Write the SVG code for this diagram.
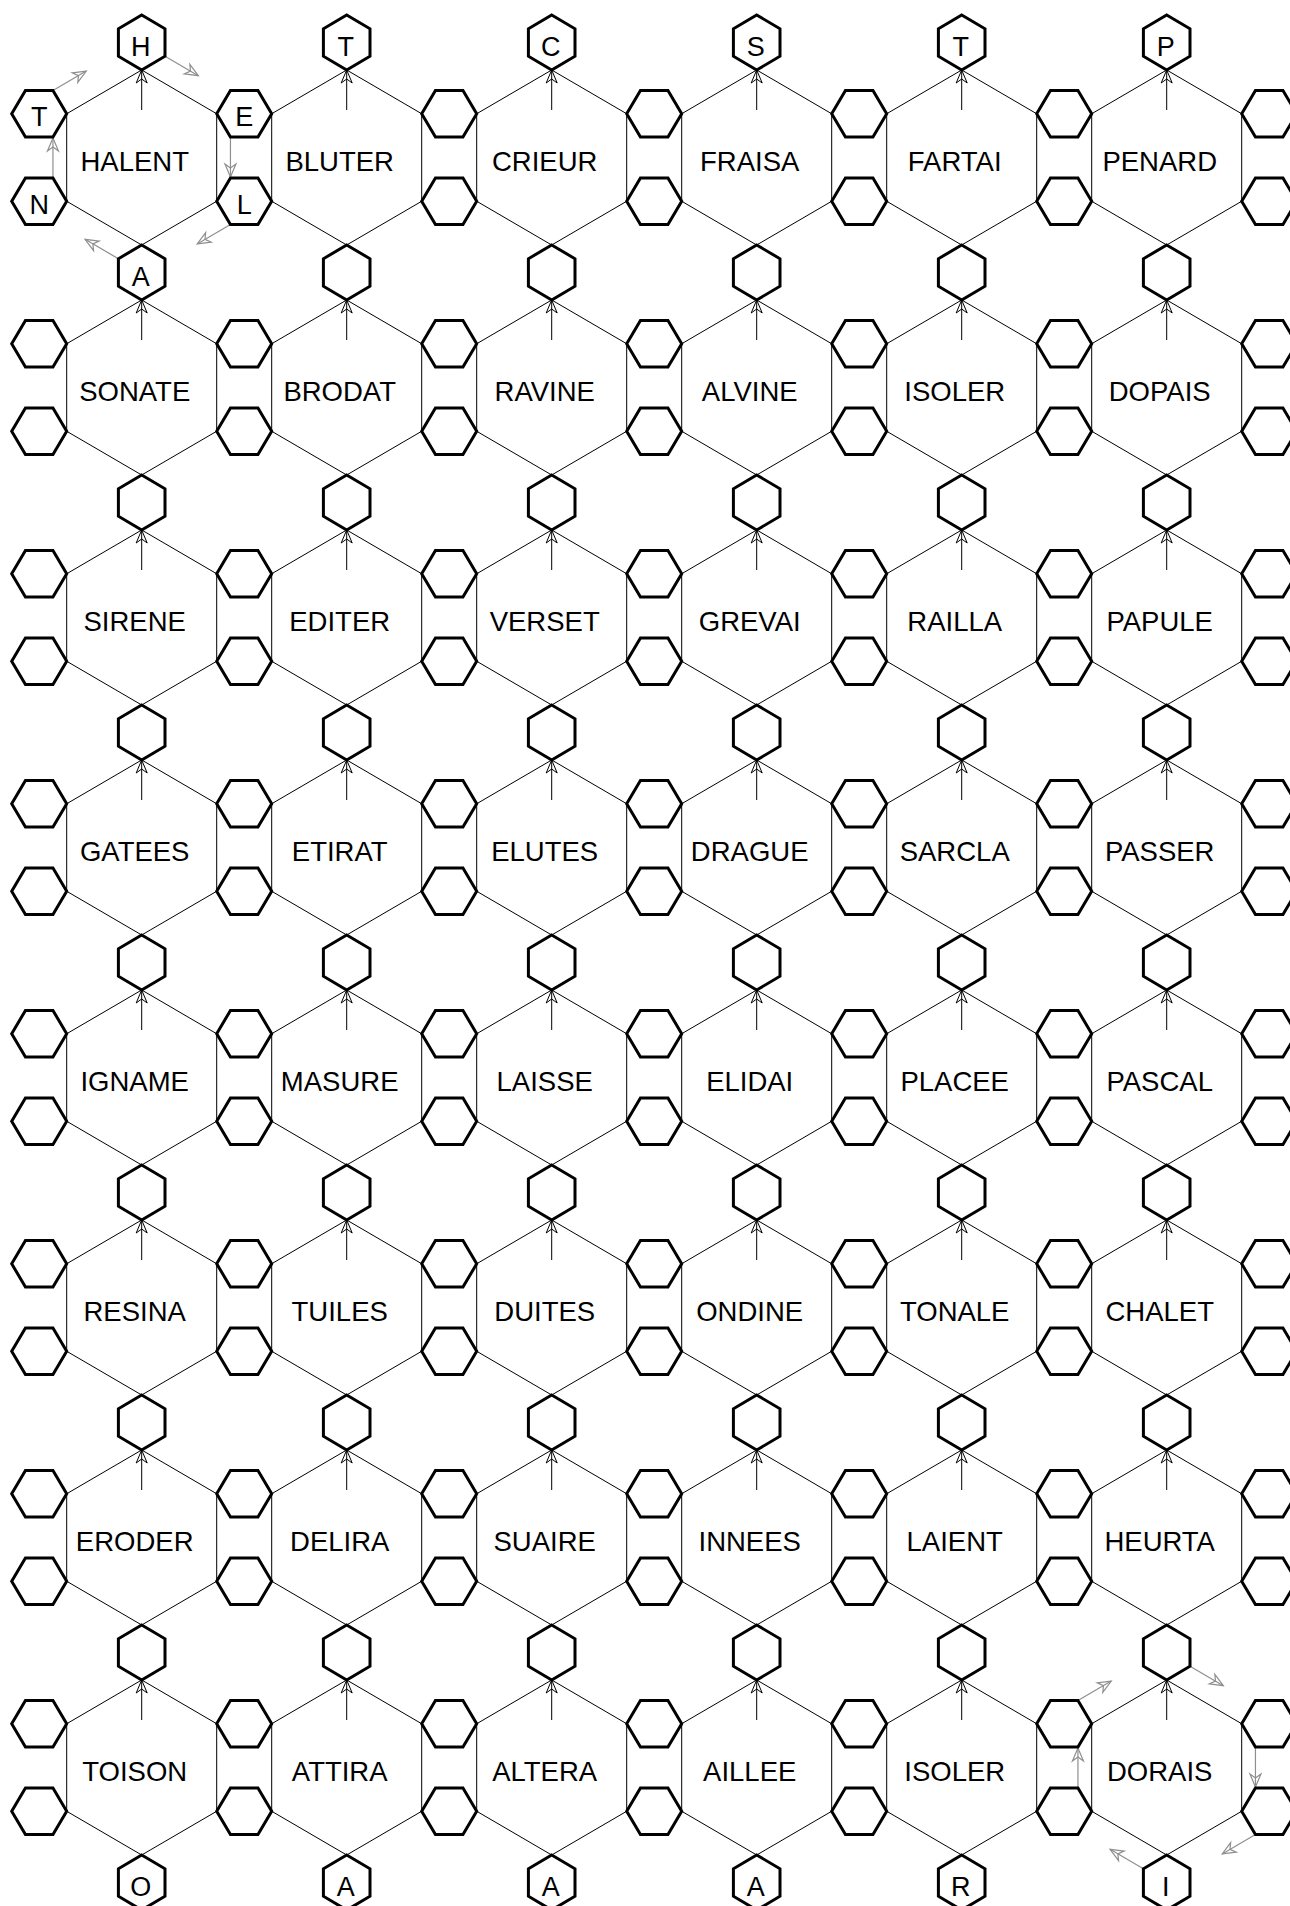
<svg xmlns="http://www.w3.org/2000/svg" xmlns:xlink="http://www.w3.org/1999/xlink" width="1290" height="1906" viewBox="0 0 1290 1906">
<style>
.big{fill:none;stroke:#000;stroke-width:1}
.sm{fill:#fff;stroke:#000;stroke-width:3;stroke-linejoin:miter}
.w{font-family:"Liberation Sans",Arial,sans-serif;font-size:27.5px;fill:#000;text-anchor:middle}
.l{font-family:"Liberation Sans",Arial,sans-serif;font-size:27px;fill:#000;text-anchor:middle}
.ia{fill:none;stroke:#000;stroke-width:1;marker-end:url(#ah)}
.ga{fill:none;stroke:#8f8f8f;stroke-width:1.2;marker-end:url(#gh)}
</style>
<defs>
<polygon id="bh" points="0,-87.5 75,-43.75 75,43.75 0,87.5 -75,43.75 -75,-43.75"/>
<polygon id="ph" points="0,-27.5 23.3,-13.75 23.3,13.75 0,27.5 -23.3,13.75 -23.3,-13.75"/>
<polygon id="fh" points="-27.5,0 -13.75,-23.3 13.75,-23.3 27.5,0 13.75,23.3 -13.75,23.3"/>
<marker id="ah" markerUnits="userSpaceOnUse" markerWidth="20" markerHeight="20" refX="0" refY="0" orient="auto" overflow="visible">
<path d="M0,0 L-13,-5.5 L-9,0 L-13,5.5 Z" fill="none" stroke="#000" stroke-width="1"/>
</marker>
<marker id="gh" markerUnits="userSpaceOnUse" markerWidth="20" markerHeight="20" refX="0" refY="0" orient="auto" overflow="visible">
<path d="M0,0 L-13,-5.5 L-9,0 L-13,5.5 Z" fill="none" stroke="#8f8f8f" stroke-width="1.2"/>
</marker>
</defs>
<rect width="1290" height="1906" fill="#fff"/>
<g id="words">
<g id="w-0-0" transform="translate(141.7,157.5)"><use href="#bh" class="big"/><text class="w" x="-7" y="13.5">HALENT</text></g>
<g id="w-0-1" transform="translate(346.7,157.5)"><use href="#bh" class="big"/><text class="w" x="-7" y="13.5">BLUTER</text></g>
<g id="w-0-2" transform="translate(551.7,157.5)"><use href="#bh" class="big"/><text class="w" x="-7" y="13.5">CRIEUR</text></g>
<g id="w-0-3" transform="translate(756.7,157.5)"><use href="#bh" class="big"/><text class="w" x="-7" y="13.5">FRAISA</text></g>
<g id="w-0-4" transform="translate(961.7,157.5)"><use href="#bh" class="big"/><text class="w" x="-7" y="13.5">FARTAI</text></g>
<g id="w-0-5" transform="translate(1166.7,157.5)"><use href="#bh" class="big"/><text class="w" x="-7" y="13.5">PENARD</text></g>
<g id="w-1-0" transform="translate(141.7,387.5)"><use href="#bh" class="big"/><text class="w" x="-7" y="13.5">SONATE</text></g>
<g id="w-1-1" transform="translate(346.7,387.5)"><use href="#bh" class="big"/><text class="w" x="-7" y="13.5">BRODAT</text></g>
<g id="w-1-2" transform="translate(551.7,387.5)"><use href="#bh" class="big"/><text class="w" x="-7" y="13.5">RAVINE</text></g>
<g id="w-1-3" transform="translate(756.7,387.5)"><use href="#bh" class="big"/><text class="w" x="-7" y="13.5">ALVINE</text></g>
<g id="w-1-4" transform="translate(961.7,387.5)"><use href="#bh" class="big"/><text class="w" x="-7" y="13.5">ISOLER</text></g>
<g id="w-1-5" transform="translate(1166.7,387.5)"><use href="#bh" class="big"/><text class="w" x="-7" y="13.5">DOPAIS</text></g>
<g id="w-2-0" transform="translate(141.7,617.5)"><use href="#bh" class="big"/><text class="w" x="-7" y="13.5">SIRENE</text></g>
<g id="w-2-1" transform="translate(346.7,617.5)"><use href="#bh" class="big"/><text class="w" x="-7" y="13.5">EDITER</text></g>
<g id="w-2-2" transform="translate(551.7,617.5)"><use href="#bh" class="big"/><text class="w" x="-7" y="13.5">VERSET</text></g>
<g id="w-2-3" transform="translate(756.7,617.5)"><use href="#bh" class="big"/><text class="w" x="-7" y="13.5">GREVAI</text></g>
<g id="w-2-4" transform="translate(961.7,617.5)"><use href="#bh" class="big"/><text class="w" x="-7" y="13.5">RAILLA</text></g>
<g id="w-2-5" transform="translate(1166.7,617.5)"><use href="#bh" class="big"/><text class="w" x="-7" y="13.5">PAPULE</text></g>
<g id="w-3-0" transform="translate(141.7,847.5)"><use href="#bh" class="big"/><text class="w" x="-7" y="13.5">GATEES</text></g>
<g id="w-3-1" transform="translate(346.7,847.5)"><use href="#bh" class="big"/><text class="w" x="-7" y="13.5">ETIRAT</text></g>
<g id="w-3-2" transform="translate(551.7,847.5)"><use href="#bh" class="big"/><text class="w" x="-7" y="13.5">ELUTES</text></g>
<g id="w-3-3" transform="translate(756.7,847.5)"><use href="#bh" class="big"/><text class="w" x="-7" y="13.5">DRAGUE</text></g>
<g id="w-3-4" transform="translate(961.7,847.5)"><use href="#bh" class="big"/><text class="w" x="-7" y="13.5">SARCLA</text></g>
<g id="w-3-5" transform="translate(1166.7,847.5)"><use href="#bh" class="big"/><text class="w" x="-7" y="13.5">PASSER</text></g>
<g id="w-4-0" transform="translate(141.7,1077.5)"><use href="#bh" class="big"/><text class="w" x="-7" y="13.5">IGNAME</text></g>
<g id="w-4-1" transform="translate(346.7,1077.5)"><use href="#bh" class="big"/><text class="w" x="-7" y="13.5">MASURE</text></g>
<g id="w-4-2" transform="translate(551.7,1077.5)"><use href="#bh" class="big"/><text class="w" x="-7" y="13.5">LAISSE</text></g>
<g id="w-4-3" transform="translate(756.7,1077.5)"><use href="#bh" class="big"/><text class="w" x="-7" y="13.5">ELIDAI</text></g>
<g id="w-4-4" transform="translate(961.7,1077.5)"><use href="#bh" class="big"/><text class="w" x="-7" y="13.5">PLACEE</text></g>
<g id="w-4-5" transform="translate(1166.7,1077.5)"><use href="#bh" class="big"/><text class="w" x="-7" y="13.5">PASCAL</text></g>
<g id="w-5-0" transform="translate(141.7,1307.5)"><use href="#bh" class="big"/><text class="w" x="-7" y="13.5">RESINA</text></g>
<g id="w-5-1" transform="translate(346.7,1307.5)"><use href="#bh" class="big"/><text class="w" x="-7" y="13.5">TUILES</text></g>
<g id="w-5-2" transform="translate(551.7,1307.5)"><use href="#bh" class="big"/><text class="w" x="-7" y="13.5">DUITES</text></g>
<g id="w-5-3" transform="translate(756.7,1307.5)"><use href="#bh" class="big"/><text class="w" x="-7" y="13.5">ONDINE</text></g>
<g id="w-5-4" transform="translate(961.7,1307.5)"><use href="#bh" class="big"/><text class="w" x="-7" y="13.5">TONALE</text></g>
<g id="w-5-5" transform="translate(1166.7,1307.5)"><use href="#bh" class="big"/><text class="w" x="-7" y="13.5">CHALET</text></g>
<g id="w-6-0" transform="translate(141.7,1537.5)"><use href="#bh" class="big"/><text class="w" x="-7" y="13.5">ERODER</text></g>
<g id="w-6-1" transform="translate(346.7,1537.5)"><use href="#bh" class="big"/><text class="w" x="-7" y="13.5">DELIRA</text></g>
<g id="w-6-2" transform="translate(551.7,1537.5)"><use href="#bh" class="big"/><text class="w" x="-7" y="13.5">SUAIRE</text></g>
<g id="w-6-3" transform="translate(756.7,1537.5)"><use href="#bh" class="big"/><text class="w" x="-7" y="13.5">INNEES</text></g>
<g id="w-6-4" transform="translate(961.7,1537.5)"><use href="#bh" class="big"/><text class="w" x="-7" y="13.5">LAIENT</text></g>
<g id="w-6-5" transform="translate(1166.7,1537.5)"><use href="#bh" class="big"/><text class="w" x="-7" y="13.5">HEURTA</text></g>
<g id="w-7-0" transform="translate(141.7,1767.5)"><use href="#bh" class="big"/><text class="w" x="-7" y="13.5">TOISON</text></g>
<g id="w-7-1" transform="translate(346.7,1767.5)"><use href="#bh" class="big"/><text class="w" x="-7" y="13.5">ATTIRA</text></g>
<g id="w-7-2" transform="translate(551.7,1767.5)"><use href="#bh" class="big"/><text class="w" x="-7" y="13.5">ALTERA</text></g>
<g id="w-7-3" transform="translate(756.7,1767.5)"><use href="#bh" class="big"/><text class="w" x="-7" y="13.5">AILLEE</text></g>
<g id="w-7-4" transform="translate(961.7,1767.5)"><use href="#bh" class="big"/><text class="w" x="-7" y="13.5">ISOLER</text></g>
<g id="w-7-5" transform="translate(1166.7,1767.5)"><use href="#bh" class="big"/><text class="w" x="-7" y="13.5">DORAIS</text></g>
</g>
<g id="connectors">
<path class="ia" d="M141.7,110V70"/><path class="ia" d="M346.7,110V70"/><path class="ia" d="M551.7,110V70"/><path class="ia" d="M756.7,110V70"/><path class="ia" d="M961.7,110V70"/><path class="ia" d="M1166.7,110V70"/>
<path class="ia" d="M141.7,340V300"/><path class="ia" d="M346.7,340V300"/><path class="ia" d="M551.7,340V300"/><path class="ia" d="M756.7,340V300"/><path class="ia" d="M961.7,340V300"/><path class="ia" d="M1166.7,340V300"/>
<path class="ia" d="M141.7,570V530"/><path class="ia" d="M346.7,570V530"/><path class="ia" d="M551.7,570V530"/><path class="ia" d="M756.7,570V530"/><path class="ia" d="M961.7,570V530"/><path class="ia" d="M1166.7,570V530"/>
<path class="ia" d="M141.7,800V760"/><path class="ia" d="M346.7,800V760"/><path class="ia" d="M551.7,800V760"/><path class="ia" d="M756.7,800V760"/><path class="ia" d="M961.7,800V760"/><path class="ia" d="M1166.7,800V760"/>
<path class="ia" d="M141.7,1030V990"/><path class="ia" d="M346.7,1030V990"/><path class="ia" d="M551.7,1030V990"/><path class="ia" d="M756.7,1030V990"/><path class="ia" d="M961.7,1030V990"/><path class="ia" d="M1166.7,1030V990"/>
<path class="ia" d="M141.7,1260V1220"/><path class="ia" d="M346.7,1260V1220"/><path class="ia" d="M551.7,1260V1220"/><path class="ia" d="M756.7,1260V1220"/><path class="ia" d="M961.7,1260V1220"/><path class="ia" d="M1166.7,1260V1220"/>
<path class="ia" d="M141.7,1490V1450"/><path class="ia" d="M346.7,1490V1450"/><path class="ia" d="M551.7,1490V1450"/><path class="ia" d="M756.7,1490V1450"/><path class="ia" d="M961.7,1490V1450"/><path class="ia" d="M1166.7,1490V1450"/>
<path class="ia" d="M141.7,1720V1680"/><path class="ia" d="M346.7,1720V1680"/><path class="ia" d="M551.7,1720V1680"/><path class="ia" d="M756.7,1720V1680"/><path class="ia" d="M961.7,1720V1680"/><path class="ia" d="M1166.7,1720V1680"/>
<g id="cycle-halent">
<path class="ga" d="M165,56.25L198.3,75.65"/>
<path class="ga" d="M230.45,137.05V177"/>
<path class="ga" d="M230.45,224.55L197.2,243.95"/>
<path class="ga" d="M118.4,258.75L85.1,239.35"/>
<path class="ga" d="M52.95,177.95V138"/>
<path class="ga" d="M52.95,90.45L86.25,71.05"/>
</g>
<g id="cycle-dorais" transform="translate(1025,1610)">
<path class="ga" d="M165,56.25L198.3,75.65"/>
<path class="ga" d="M230.45,137.05V177"/>
<path class="ga" d="M230.45,224.55L197.2,243.95"/>
<path class="ga" d="M118.4,258.75L85.1,239.35"/>
<path class="ga" d="M52.95,177.95V138"/>
<path class="ga" d="M52.95,90.45L86.25,71.05"/>
</g>
</g>
<g id="cells">
<g id="p-0-0"><use href="#ph" class="sm" x="141.7" y="42.5"/><text class="l" x="140.7" y="56">H</text></g>
<g id="p-0-1"><use href="#ph" class="sm" x="346.7" y="42.5"/><text class="l" x="345.7" y="56">T</text></g>
<g id="p-0-2"><use href="#ph" class="sm" x="551.7" y="42.5"/><text class="l" x="550.7" y="56">C</text></g>
<g id="p-0-3"><use href="#ph" class="sm" x="756.7" y="42.5"/><text class="l" x="755.7" y="56">S</text></g>
<g id="p-0-4"><use href="#ph" class="sm" x="961.7" y="42.5"/><text class="l" x="960.7" y="56">T</text></g>
<g id="p-0-5"><use href="#ph" class="sm" x="1166.7" y="42.5"/><text class="l" x="1165.7" y="56">P</text></g>
<g id="p-1-0"><use href="#ph" class="sm" x="141.7" y="272.5"/><text class="l" x="140.7" y="286">A</text></g>
<use id="p-1-1" href="#ph" class="sm" x="346.7" y="272.5"/><use id="p-1-2" href="#ph" class="sm" x="551.7" y="272.5"/><use id="p-1-3" href="#ph" class="sm" x="756.7" y="272.5"/><use id="p-1-4" href="#ph" class="sm" x="961.7" y="272.5"/><use id="p-1-5" href="#ph" class="sm" x="1166.7" y="272.5"/>
<use id="p-2-0" href="#ph" class="sm" x="141.7" y="502.5"/><use id="p-2-1" href="#ph" class="sm" x="346.7" y="502.5"/><use id="p-2-2" href="#ph" class="sm" x="551.7" y="502.5"/><use id="p-2-3" href="#ph" class="sm" x="756.7" y="502.5"/><use id="p-2-4" href="#ph" class="sm" x="961.7" y="502.5"/><use id="p-2-5" href="#ph" class="sm" x="1166.7" y="502.5"/>
<use id="p-3-0" href="#ph" class="sm" x="141.7" y="732.5"/><use id="p-3-1" href="#ph" class="sm" x="346.7" y="732.5"/><use id="p-3-2" href="#ph" class="sm" x="551.7" y="732.5"/><use id="p-3-3" href="#ph" class="sm" x="756.7" y="732.5"/><use id="p-3-4" href="#ph" class="sm" x="961.7" y="732.5"/><use id="p-3-5" href="#ph" class="sm" x="1166.7" y="732.5"/>
<use id="p-4-0" href="#ph" class="sm" x="141.7" y="962.5"/><use id="p-4-1" href="#ph" class="sm" x="346.7" y="962.5"/><use id="p-4-2" href="#ph" class="sm" x="551.7" y="962.5"/><use id="p-4-3" href="#ph" class="sm" x="756.7" y="962.5"/><use id="p-4-4" href="#ph" class="sm" x="961.7" y="962.5"/><use id="p-4-5" href="#ph" class="sm" x="1166.7" y="962.5"/>
<use id="p-5-0" href="#ph" class="sm" x="141.7" y="1192.5"/><use id="p-5-1" href="#ph" class="sm" x="346.7" y="1192.5"/><use id="p-5-2" href="#ph" class="sm" x="551.7" y="1192.5"/><use id="p-5-3" href="#ph" class="sm" x="756.7" y="1192.5"/><use id="p-5-4" href="#ph" class="sm" x="961.7" y="1192.5"/><use id="p-5-5" href="#ph" class="sm" x="1166.7" y="1192.5"/>
<use id="p-6-0" href="#ph" class="sm" x="141.7" y="1422.5"/><use id="p-6-1" href="#ph" class="sm" x="346.7" y="1422.5"/><use id="p-6-2" href="#ph" class="sm" x="551.7" y="1422.5"/><use id="p-6-3" href="#ph" class="sm" x="756.7" y="1422.5"/><use id="p-6-4" href="#ph" class="sm" x="961.7" y="1422.5"/><use id="p-6-5" href="#ph" class="sm" x="1166.7" y="1422.5"/>
<use id="p-7-0" href="#ph" class="sm" x="141.7" y="1652.5"/><use id="p-7-1" href="#ph" class="sm" x="346.7" y="1652.5"/><use id="p-7-2" href="#ph" class="sm" x="551.7" y="1652.5"/><use id="p-7-3" href="#ph" class="sm" x="756.7" y="1652.5"/><use id="p-7-4" href="#ph" class="sm" x="961.7" y="1652.5"/><use id="p-7-5" href="#ph" class="sm" x="1166.7" y="1652.5"/>
<g id="p-8-0"><use href="#ph" class="sm" x="141.7" y="1882.5"/><text class="l" x="140.7" y="1896">O</text></g>
<g id="p-8-1"><use href="#ph" class="sm" x="346.7" y="1882.5"/><text class="l" x="345.7" y="1896">A</text></g>
<g id="p-8-2"><use href="#ph" class="sm" x="551.7" y="1882.5"/><text class="l" x="550.7" y="1896">A</text></g>
<g id="p-8-3"><use href="#ph" class="sm" x="756.7" y="1882.5"/><text class="l" x="755.7" y="1896">A</text></g>
<g id="p-8-4"><use href="#ph" class="sm" x="961.7" y="1882.5"/><text class="l" x="960.7" y="1896">R</text></g>
<g id="p-8-5"><use href="#ph" class="sm" x="1166.7" y="1882.5"/><text class="l" x="1165.7" y="1896">I</text></g>
<g id="f-0-0"><use href="#fh" class="sm" x="39.2" y="113.75"/><text class="l" x="39.2" y="126">T</text></g>
<g id="f-0-1"><use href="#fh" class="sm" x="39.2" y="201.25"/><text class="l" x="39.2" y="214">N</text></g>
<g id="f-1-0"><use href="#fh" class="sm" x="244.2" y="113.75"/><text class="l" x="244.2" y="126">E</text></g>
<g id="f-1-1"><use href="#fh" class="sm" x="244.2" y="201.25"/><text class="l" x="244.2" y="214">L</text></g>
<use id="f-0-2" href="#fh" class="sm" x="39.2" y="343.75"/><use id="f-0-3" href="#fh" class="sm" x="39.2" y="431.25"/><use id="f-0-4" href="#fh" class="sm" x="39.2" y="573.75"/><use id="f-0-5" href="#fh" class="sm" x="39.2" y="661.25"/><use id="f-0-6" href="#fh" class="sm" x="39.2" y="803.75"/><use id="f-0-7" href="#fh" class="sm" x="39.2" y="891.25"/><use id="f-0-8" href="#fh" class="sm" x="39.2" y="1033.75"/><use id="f-0-9" href="#fh" class="sm" x="39.2" y="1121.25"/><use id="f-0-10" href="#fh" class="sm" x="39.2" y="1263.75"/><use id="f-0-11" href="#fh" class="sm" x="39.2" y="1351.25"/><use id="f-0-12" href="#fh" class="sm" x="39.2" y="1493.75"/><use id="f-0-13" href="#fh" class="sm" x="39.2" y="1581.25"/><use id="f-0-14" href="#fh" class="sm" x="39.2" y="1723.75"/><use id="f-0-15" href="#fh" class="sm" x="39.2" y="1811.25"/>
<use id="f-1-2" href="#fh" class="sm" x="244.2" y="343.75"/><use id="f-1-3" href="#fh" class="sm" x="244.2" y="431.25"/><use id="f-1-4" href="#fh" class="sm" x="244.2" y="573.75"/><use id="f-1-5" href="#fh" class="sm" x="244.2" y="661.25"/><use id="f-1-6" href="#fh" class="sm" x="244.2" y="803.75"/><use id="f-1-7" href="#fh" class="sm" x="244.2" y="891.25"/><use id="f-1-8" href="#fh" class="sm" x="244.2" y="1033.75"/><use id="f-1-9" href="#fh" class="sm" x="244.2" y="1121.25"/><use id="f-1-10" href="#fh" class="sm" x="244.2" y="1263.75"/><use id="f-1-11" href="#fh" class="sm" x="244.2" y="1351.25"/><use id="f-1-12" href="#fh" class="sm" x="244.2" y="1493.75"/><use id="f-1-13" href="#fh" class="sm" x="244.2" y="1581.25"/><use id="f-1-14" href="#fh" class="sm" x="244.2" y="1723.75"/><use id="f-1-15" href="#fh" class="sm" x="244.2" y="1811.25"/>
<use id="f-2-0" href="#fh" class="sm" x="449.2" y="113.75"/><use id="f-2-1" href="#fh" class="sm" x="449.2" y="201.25"/><use id="f-2-2" href="#fh" class="sm" x="449.2" y="343.75"/><use id="f-2-3" href="#fh" class="sm" x="449.2" y="431.25"/><use id="f-2-4" href="#fh" class="sm" x="449.2" y="573.75"/><use id="f-2-5" href="#fh" class="sm" x="449.2" y="661.25"/><use id="f-2-6" href="#fh" class="sm" x="449.2" y="803.75"/><use id="f-2-7" href="#fh" class="sm" x="449.2" y="891.25"/><use id="f-2-8" href="#fh" class="sm" x="449.2" y="1033.75"/><use id="f-2-9" href="#fh" class="sm" x="449.2" y="1121.25"/><use id="f-2-10" href="#fh" class="sm" x="449.2" y="1263.75"/><use id="f-2-11" href="#fh" class="sm" x="449.2" y="1351.25"/><use id="f-2-12" href="#fh" class="sm" x="449.2" y="1493.75"/><use id="f-2-13" href="#fh" class="sm" x="449.2" y="1581.25"/><use id="f-2-14" href="#fh" class="sm" x="449.2" y="1723.75"/><use id="f-2-15" href="#fh" class="sm" x="449.2" y="1811.25"/>
<use id="f-3-0" href="#fh" class="sm" x="654.2" y="113.75"/><use id="f-3-1" href="#fh" class="sm" x="654.2" y="201.25"/><use id="f-3-2" href="#fh" class="sm" x="654.2" y="343.75"/><use id="f-3-3" href="#fh" class="sm" x="654.2" y="431.25"/><use id="f-3-4" href="#fh" class="sm" x="654.2" y="573.75"/><use id="f-3-5" href="#fh" class="sm" x="654.2" y="661.25"/><use id="f-3-6" href="#fh" class="sm" x="654.2" y="803.75"/><use id="f-3-7" href="#fh" class="sm" x="654.2" y="891.25"/><use id="f-3-8" href="#fh" class="sm" x="654.2" y="1033.75"/><use id="f-3-9" href="#fh" class="sm" x="654.2" y="1121.25"/><use id="f-3-10" href="#fh" class="sm" x="654.2" y="1263.75"/><use id="f-3-11" href="#fh" class="sm" x="654.2" y="1351.25"/><use id="f-3-12" href="#fh" class="sm" x="654.2" y="1493.75"/><use id="f-3-13" href="#fh" class="sm" x="654.2" y="1581.25"/><use id="f-3-14" href="#fh" class="sm" x="654.2" y="1723.75"/><use id="f-3-15" href="#fh" class="sm" x="654.2" y="1811.25"/>
<use id="f-4-0" href="#fh" class="sm" x="859.2" y="113.75"/><use id="f-4-1" href="#fh" class="sm" x="859.2" y="201.25"/><use id="f-4-2" href="#fh" class="sm" x="859.2" y="343.75"/><use id="f-4-3" href="#fh" class="sm" x="859.2" y="431.25"/><use id="f-4-4" href="#fh" class="sm" x="859.2" y="573.75"/><use id="f-4-5" href="#fh" class="sm" x="859.2" y="661.25"/><use id="f-4-6" href="#fh" class="sm" x="859.2" y="803.75"/><use id="f-4-7" href="#fh" class="sm" x="859.2" y="891.25"/><use id="f-4-8" href="#fh" class="sm" x="859.2" y="1033.75"/><use id="f-4-9" href="#fh" class="sm" x="859.2" y="1121.25"/><use id="f-4-10" href="#fh" class="sm" x="859.2" y="1263.75"/><use id="f-4-11" href="#fh" class="sm" x="859.2" y="1351.25"/><use id="f-4-12" href="#fh" class="sm" x="859.2" y="1493.75"/><use id="f-4-13" href="#fh" class="sm" x="859.2" y="1581.25"/><use id="f-4-14" href="#fh" class="sm" x="859.2" y="1723.75"/><use id="f-4-15" href="#fh" class="sm" x="859.2" y="1811.25"/>
<use id="f-5-0" href="#fh" class="sm" x="1064.2" y="113.75"/><use id="f-5-1" href="#fh" class="sm" x="1064.2" y="201.25"/><use id="f-5-2" href="#fh" class="sm" x="1064.2" y="343.75"/><use id="f-5-3" href="#fh" class="sm" x="1064.2" y="431.25"/><use id="f-5-4" href="#fh" class="sm" x="1064.2" y="573.75"/><use id="f-5-5" href="#fh" class="sm" x="1064.2" y="661.25"/><use id="f-5-6" href="#fh" class="sm" x="1064.2" y="803.75"/><use id="f-5-7" href="#fh" class="sm" x="1064.2" y="891.25"/><use id="f-5-8" href="#fh" class="sm" x="1064.2" y="1033.75"/><use id="f-5-9" href="#fh" class="sm" x="1064.2" y="1121.25"/><use id="f-5-10" href="#fh" class="sm" x="1064.2" y="1263.75"/><use id="f-5-11" href="#fh" class="sm" x="1064.2" y="1351.25"/><use id="f-5-12" href="#fh" class="sm" x="1064.2" y="1493.75"/><use id="f-5-13" href="#fh" class="sm" x="1064.2" y="1581.25"/><use id="f-5-14" href="#fh" class="sm" x="1064.2" y="1723.75"/><use id="f-5-15" href="#fh" class="sm" x="1064.2" y="1811.25"/>
<use id="f-6-0" href="#fh" class="sm" x="1269.2" y="113.75"/><use id="f-6-1" href="#fh" class="sm" x="1269.2" y="201.25"/><use id="f-6-2" href="#fh" class="sm" x="1269.2" y="343.75"/><use id="f-6-3" href="#fh" class="sm" x="1269.2" y="431.25"/><use id="f-6-4" href="#fh" class="sm" x="1269.2" y="573.75"/><use id="f-6-5" href="#fh" class="sm" x="1269.2" y="661.25"/><use id="f-6-6" href="#fh" class="sm" x="1269.2" y="803.75"/><use id="f-6-7" href="#fh" class="sm" x="1269.2" y="891.25"/><use id="f-6-8" href="#fh" class="sm" x="1269.2" y="1033.75"/><use id="f-6-9" href="#fh" class="sm" x="1269.2" y="1121.25"/><use id="f-6-10" href="#fh" class="sm" x="1269.2" y="1263.75"/><use id="f-6-11" href="#fh" class="sm" x="1269.2" y="1351.25"/><use id="f-6-12" href="#fh" class="sm" x="1269.2" y="1493.75"/><use id="f-6-13" href="#fh" class="sm" x="1269.2" y="1581.25"/><use id="f-6-14" href="#fh" class="sm" x="1269.2" y="1723.75"/><use id="f-6-15" href="#fh" class="sm" x="1269.2" y="1811.25"/>
</g>
</svg>
